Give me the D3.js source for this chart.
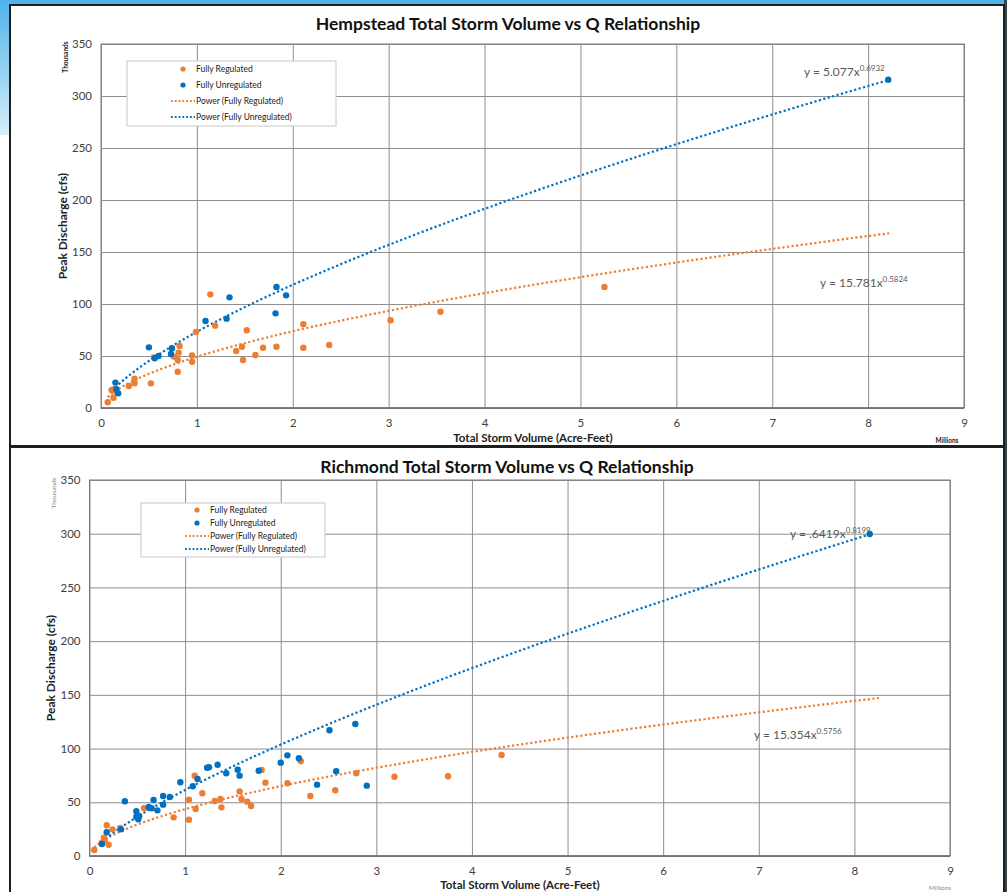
<!DOCTYPE html>
<html>
<head>
<meta charset="utf-8">
<script src="https://cdn.jsdelivr.net/npm/d3@7"></script>
<style>
  body { margin: 0; background: #fff; }
  svg text { font-family: Lato, 'Noto Sans', sans-serif; }
</style>
</head>
<body>
<div id="viz"></div>
<script>
// axis ticks
const xTicks = [0, 1, 2, 3, 4, 5, 6, 7, 8, 9];
const yTicks = [0, 50, 100, 150, 200, 250, 300, 350];
const seriesNames = ['Fully Regulated', 'Fully Unregulated', 'Power (Fully Regulated)', 'Power (Fully Unregulated)'];

// Hempstead: [volume (millions acre-ft), peak Q (thousands cfs)]
const hempRegulated = [
  [0.07, 5.5], [0.11, 17.3], [0.14, 18.3], [0.13, 9.9], [0.16, 15.7], [0.29, 21.2],
  [0.35, 28.2], [0.35, 23.7], [0.52, 23.7], [0.55, 48.7], [0.76, 49.4], [0.80, 46.1],
  [0.80, 34.9], [0.81, 53.2], [0.82, 59.6], [0.95, 50.6], [0.95, 44.5], [0.99, 73.1],
  [1.14, 109.3], [1.19, 79.2], [1.41, 54.8], [1.47, 58.9], [1.48, 46.1], [1.52, 74.7],
  [1.61, 51.0], [1.69, 58.0], [1.83, 58.9], [2.11, 80.5], [2.11, 58.0], [2.38, 60.6],
  [3.02, 84.4], [3.54, 92.6], [5.25, 116.3]
];
const hempUnregulated = [
  [0.15, 24.4], [0.18, 14.1], [0.16, 18.0], [0.50, 58.3], [0.56, 47.8], [0.60, 50.0],
  [0.73, 51.9], [0.74, 57.4], [1.09, 83.7], [1.31, 85.9], [1.34, 106.4], [1.82, 91.0],
  [1.83, 116.3], [1.93, 108.3], [8.21, 315.7]
];
// Richmond
const richRegulated = [
  [0.05, 5.6], [0.13, 12.4], [0.15, 17.1], [0.16, 14.9], [0.18, 28.6], [0.20, 10.5],
  [0.24, 24.8], [0.32, 26.1], [0.57, 44.4], [0.88, 36.0], [1.04, 52.4], [1.04, 33.8],
  [1.10, 74.8], [1.11, 43.8], [1.18, 58.4], [1.31, 51.2], [1.37, 53.1], [1.38, 45.3],
  [1.57, 60.2], [1.59, 53.1], [1.65, 50.6], [1.69, 46.6], [1.80, 80.1], [1.84, 68.3],
  [2.07, 67.7], [2.21, 88.2], [2.31, 55.9], [2.57, 61.2], [2.79, 77.0], [3.19, 73.8],
  [3.75, 74.2], [4.31, 94.0]
];
const richUnregulated = [
  [0.13, 11.2], [0.18, 22.1], [0.33, 24.8], [0.37, 50.9], [0.49, 41.6], [0.49, 36.6],
  [0.51, 34.2], [0.52, 37.2], [0.62, 45.6], [0.65, 44.4], [0.67, 52.1], [0.71, 42.5],
  [0.77, 55.9], [0.77, 47.8], [0.84, 54.9], [0.95, 68.6], [1.08, 64.9], [1.13, 71.7],
  [1.23, 82.2], [1.25, 82.6], [1.34, 85.0], [1.43, 77.0], [1.55, 80.3], [1.57, 74.8],
  [1.77, 79.4], [2.00, 86.9], [2.07, 93.7], [2.19, 91.0], [2.38, 66.4], [2.51, 117.0],
  [2.58, 78.9], [2.78, 122.9], [2.90, 65.5], [8.16, 299.8]
];

// power trendlines y = a * x^b (raw cfs / acre-ft), with x extent in millions
const hempFitRegulated = [15.781, 0.5824, 0.07, 8.22];
const hempFitUnregulated = [5.077, 0.6932, 0.15, 8.21];
const richFitRegulated = [15.354, 0.5756, 0.02, 8.26];
const richFitUnregulated = [1.84, 0.754, 0.13, 8.16];

const hempEquations = ['y = 5.077x', '0.6932', 'y = 15.781x', '0.5824'];
const richEquations = ['y = .6419x', '0.8199', 'y = 15.354x', '0.5756'];

const ORANGE = '#ED7D31';
const BLUE = '#0070C0';

const svg = d3.select('#viz').append('svg')
  .attr('width', 1007)
  .attr('height', 892);

// slide background bits
const defs = svg.append('defs');
const grad = defs.append('linearGradient').attr('id', 'bg').attr('x1', 0).attr('y1', 0).attr('x2', 0).attr('y2', 1);
grad.append('stop').attr('offset', '0%').attr('stop-color', '#4fb3ea');
grad.append('stop').attr('offset', '100%').attr('stop-color', '#d8eefa');
svg.append('rect').attr('x', 0).attr('y', 0).attr('width', 1007).attr('height', 6).attr('fill', '#4db2ea');
svg.append('rect').attr('x', 0).attr('y', 0).attr('width', 11).attr('height', 135).attr('fill', 'url(#bg)');
svg.append('rect').attr('x', 1004).attr('y', 0).attr('width', 3).attr('height', 892).attr('fill', '#34454f');

function drawPanel(cfg) {
  const x = d3.scaleLinear().domain([0, 9]).range([cfg.left, cfg.right]);
  const y = d3.scaleLinear().domain([0, 350]).range([cfg.bottom, cfg.top]);
  const g = svg.append('g');

  g.append('rect')
    .attr('x', 10).attr('y', cfg.panelTop)
    .attr('width', 994).attr('height', cfg.panelBottom - cfg.panelTop)
    .attr('fill', '#fff').attr('stroke', '#1e1e1e').attr('stroke-width', 2);

  // gridlines
  g.append('g')
    .attr('transform', `translate(0,${cfg.bottom})`)
    .call(d3.axisBottom(x).tickValues(xTicks).tickSize(-(cfg.bottom - cfg.top)).tickFormat(''))
    .call(s => s.select('.domain').remove())
    .selectAll('line').attr('stroke', '#8f8f8f');
  g.append('g')
    .attr('transform', `translate(${cfg.left},0)`)
    .call(d3.axisLeft(y).tickValues(yTicks).tickSize(-(cfg.right - cfg.left)).tickFormat(''))
    .call(s => s.select('.domain').remove())
    .selectAll('line').attr('stroke', '#8f8f8f');
  g.append('rect')
    .attr('x', cfg.left).attr('y', cfg.top)
    .attr('width', cfg.right - cfg.left).attr('height', cfg.bottom - cfg.top)
    .attr('fill', 'none').attr('stroke', '#7a7a7a');
  g.append('line')
    .attr('x1', cfg.left).attr('x2', cfg.right)
    .attr('y1', cfg.bottom).attr('y2', cfg.bottom)
    .attr('stroke', '#6b6b6b').attr('stroke-width', 1.5);

  // tick labels
  const xa = g.append('g')
    .attr('transform', `translate(0,${cfg.bottom})`)
    .call(d3.axisBottom(x).tickValues(xTicks).tickSize(0).tickPadding(11));
  const ya = g.append('g')
    .attr('transform', `translate(${cfg.left},0)`)
    .call(d3.axisLeft(y).tickValues(yTicks).tickSize(0).tickPadding(cfg.yPad));
  [xa, ya].forEach(a => {
    a.select('.domain').remove();
    a.selectAll('text').attr('font-family', 'Lato').attr('font-size', 11.5).attr('fill', '#404040');
  });

  // trendlines
  const curve = fit => {
    const [a, b, x0, x1] = fit;
    return d3.range(0, 201).map(i => {
      const v = x0 + (x1 - x0) * i / 200;
      return [v, a * Math.pow(v * 1e6, b) / 1000];
    });
  };
  const line = d3.line().x(d => x(d[0])).y(d => y(d[1]));
  [[cfg.fitReg, ORANGE], [cfg.fitUnreg, BLUE]].forEach(([fit, col]) => {
    g.append('path')
      .attr('d', line(curve(fit)))
      .attr('fill', 'none')
      .attr('stroke', col)
      .attr('stroke-width', 2.2)
      .attr('stroke-dasharray', '2.2 2.4');
  });

  // points
  [[cfg.reg, ORANGE], [cfg.unreg, BLUE]].forEach(([pts, col]) => {
    g.append('g').selectAll('circle')
      .data(pts)
      .join('circle')
      .attr('cx', d => x(d[0]))
      .attr('cy', d => y(d[1]))
      .attr('r', 3.2)
      .attr('fill', col);
  });

  // equations
  const eq = (tx, ty, main, sup) => {
    const t = g.append('text')
      .attr('x', tx).attr('y', ty)
      .attr('font-size', 12).attr('fill', '#595959');
    t.append('tspan').text(main);
    t.append('tspan').attr('dy', -5).attr('font-size', 8).text(sup);
  };
  eq(cfg.eqUnreg[0], cfg.eqUnreg[1], cfg.eqText[0], cfg.eqText[1]);
  eq(cfg.eqReg[0], cfg.eqReg[1], cfg.eqText[2], cfg.eqText[3]);

  // legend
  const L = cfg.legend;
  const lg = g.append('g');
  lg.append('rect')
    .attr('x', L.x).attr('y', L.y).attr('width', L.w).attr('height', L.h)
    .attr('fill', '#fff').attr('stroke', '#c8c8c8');
  const cols = [ORANGE, BLUE, ORANGE, BLUE];
  seriesNames.forEach((name, i) => {
    const ry = L.y + L.first + i * L.step;
    if (i < 2) {
      lg.append('circle').attr('cx', L.x + 56).attr('cy', ry).attr('r', 2.6).attr('fill', cols[i]);
    } else {
      lg.append('line')
        .attr('x1', L.x + 44).attr('x2', L.x + 68)
        .attr('y1', ry).attr('y2', ry)
        .attr('stroke', cols[i]).attr('stroke-width', 1.8)
        .attr('stroke-dasharray', '1.8 2');
    }
    lg.append('text')
      .attr('x', L.x + 69).attr('y', ry + 3)
      .attr('font-size', L.font).attr('fill', '#222')
      .text(name);
  });

  // titles
  g.append('text')
    .attr('x', cfg.titleX).attr('y', cfg.titleY)
    .attr('text-anchor', 'middle')
    .attr('font-size', 17.5).attr('font-weight', 'bold').attr('fill', '#111')
    .text(cfg.title);
  g.append('text')
    .attr('transform', `translate(${cfg.yTitleX},${(cfg.top + cfg.bottom) / 2 + cfg.yTitleDy}) rotate(-90)`)
    .attr('text-anchor', 'middle')
    .attr('font-size', 12).attr('font-weight', 'bold').attr('fill', '#222')
    .text('Peak Discharge (cfs)');
  g.append('text')
    .attr('transform', `translate(${cfg.thouX},${cfg.top + 13}) rotate(-90)`)
    .attr('text-anchor', 'middle')
    .attr('font-size', 6.5).attr('font-weight', cfg.unitWeight).attr('fill', cfg.unitColor)
    .text('Thousands');
  g.append('text')
    .attr('x', cfg.xTitleX).attr('y', cfg.xTitleY)
    .attr('text-anchor', 'middle')
    .attr('font-size', 11.5).attr('font-weight', 'bold').attr('fill', '#222')
    .text('Total Storm Volume (Acre-Feet)');
  g.append('text')
    .attr('x', cfg.millX).attr('y', cfg.xTitleY + 1)
    .attr('text-anchor', 'middle')
    .attr('font-size', 6.5).attr('font-weight', cfg.unitWeight).attr('fill', cfg.unitColor)
    .text('Millions');
}

drawPanel({
  panelTop: 5, panelBottom: 446,
  left: 101, right: 964, top: 44, bottom: 408, yPad: 9,
  reg: hempRegulated, unreg: hempUnregulated,
  fitReg: hempFitRegulated, fitUnreg: hempFitUnregulated,
  eqText: hempEquations, eqUnreg: [804, 76], eqReg: [820, 287],
  legend: { x: 127, y: 61, w: 209, h: 65, first: 8, step: 16, font: 8.5 },
  title: 'Hempstead Total Storm Volume vs Q Relationship', titleX: 508, titleY: 30,
  yTitleX: 67, yTitleDy: 0, thouX: 68,
  xTitleX: 533, xTitleY: 442, millX: 947,
  unitWeight: 'bold', unitColor: '#222'
});

drawPanel({
  panelTop: 447, panelBottom: 900,
  left: 89.5, right: 950, top: 480, bottom: 856, yPad: 9,
  reg: richRegulated, unreg: richUnregulated,
  fitReg: richFitRegulated, fitUnreg: richFitUnregulated,
  eqText: richEquations, eqUnreg: [790, 538], eqReg: [754, 739],
  legend: { x: 141, y: 503, w: 184, h: 54, first: 7, step: 13, font: 8.5 },
  title: 'Richmond Total Storm Volume vs Q Relationship', titleX: 507, titleY: 473,
  yTitleX: 55, yTitleDy: 0, thouX: 56,
  xTitleX: 520, xTitleY: 889, millX: 940,
  unitWeight: 'normal', unitColor: '#8a8a8a'
});
</script>
</body>
</html>
